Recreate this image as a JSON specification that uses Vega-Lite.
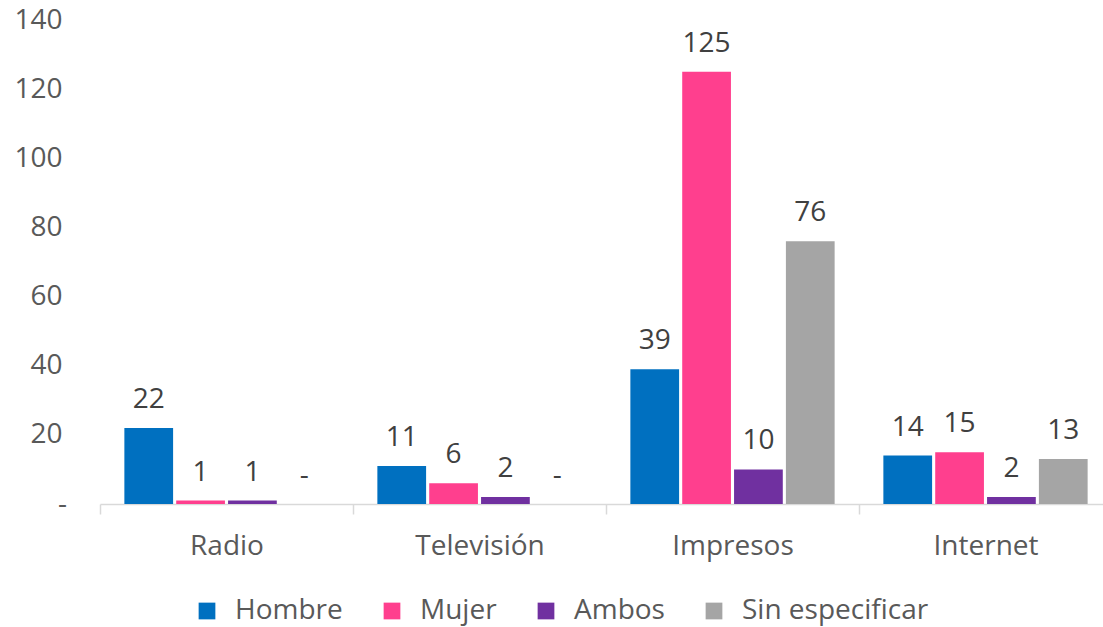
{
  "$schema": "https://vega.github.io/schema/vega-lite/v6.json",
  "autosize": "none",
  "width": 1012,
  "height": 484,
  "padding": {"left": 100, "top": 20, "right": 0, "bottom": 123},
  "background": "white",
  "config": {"view": {"stroke": null}, "font": "Open Sans"},
  "data": {
    "values": [
      {"medio": "Radio", "grupo": "Hombre", "valor": 22},
      {"medio": "Radio", "grupo": "Mujer", "valor": 1},
      {"medio": "Radio", "grupo": "Ambos", "valor": 1},
      {"medio": "Radio", "grupo": "Sin especificar", "valor": 0},
      {"medio": "Televisión", "grupo": "Hombre", "valor": 11},
      {"medio": "Televisión", "grupo": "Mujer", "valor": 6},
      {"medio": "Televisión", "grupo": "Ambos", "valor": 2},
      {"medio": "Televisión", "grupo": "Sin especificar", "valor": 0},
      {"medio": "Impresos", "grupo": "Hombre", "valor": 39},
      {"medio": "Impresos", "grupo": "Mujer", "valor": 125},
      {"medio": "Impresos", "grupo": "Ambos", "valor": 10},
      {"medio": "Impresos", "grupo": "Sin especificar", "valor": 76},
      {"medio": "Internet", "grupo": "Hombre", "valor": 14},
      {"medio": "Internet", "grupo": "Mujer", "valor": 15},
      {"medio": "Internet", "grupo": "Ambos", "valor": 2},
      {"medio": "Internet", "grupo": "Sin especificar", "valor": 13}
    ]
  },
  "transform": [
    {"calculate": "datum.valor == 0 ? '-' : format(datum.valor, 'd')", "as": "etiqueta"}
  ],
  "encoding": {
    "x": {
      "field": "medio", "type": "nominal",
      "sort": ["Radio", "Televisión", "Impresos", "Internet"],
      "scale": {"paddingInner": 0, "paddingOuter": 0},
      "axis": {
        "title": null, "labelAngle": 0, "labelFontSize": 28, "labelColor": "#595959",
        "labelFont": "Open Sans",
        "domainColor": "#D9D9D9", "domainWidth": 1.5,
        "ticks": true, "tickBand": "extent", "tickColor": "#D9D9D9", "tickSize": 10, "tickWidth": 1.5,
        "labelPadding": 18
      }
    },
    "xOffset": {
      "field": "grupo", "type": "nominal",
      "sort": ["Hombre", "Mujer", "Ambos", "Sin especificar"],
      "scale": {"paddingInner": 0.06, "paddingOuter": 0.47}
    },
    "y": {
      "field": "valor", "type": "quantitative",
      "scale": {"domain": [0, 140], "nice": false},
      "axis": {
        "title": null, "values": [0, 20, 40, 60, 80, 100, 120, 140],
        "labelExpr": "datum.value == 0 ? '-\u00a0\u00a0\u00a0\u00a0\u00a0' : datum.label",
        "labelAlign": {"condition": {"test": "datum.value == 0", "value": "center"}, "value": "right"},
        "grid": false, "domain": false, "ticks": false,
        "labelFontSize": 28, "labelColor": "#595959", "labelFont": "Open Sans",
        "labelPadding": 38
      }
    }
  },
  "layer": [
    {
      "mark": {"type": "bar"},
      "encoding": {
        "color": {
          "field": "grupo", "type": "nominal",
          "sort": ["Hombre", "Mujer", "Ambos", "Sin especificar"],
          "scale": {
            "domain": ["Hombre", "Mujer", "Ambos", "Sin especificar"],
            "range": ["#0070C0", "#FF3F8E", "#7030A0", "#A5A5A5"]
          },
          "legend": {
            "title": null, "orient": "none", "direction": "horizontal",
            "legendX": 93, "legendY": 577,
            "symbolType": "square", "symbolSize": 280, "symbolStrokeWidth": 0,
            "labelFontSize": 28, "labelColor": "#595959", "labelFont": "Open Sans",
            "labelOffset": 14, "columnPadding": 35, "padding": 0, "labelLimit": 400
          }
        }
      }
    },
    {
      "mark": {"type": "text", "baseline": "alphabetic", "dy": -20, "fontSize": 28, "color": "#404040", "font": "Open Sans"},
      "encoding": {
        "text": {"field": "etiqueta"}
      }
    }
  ]
}
